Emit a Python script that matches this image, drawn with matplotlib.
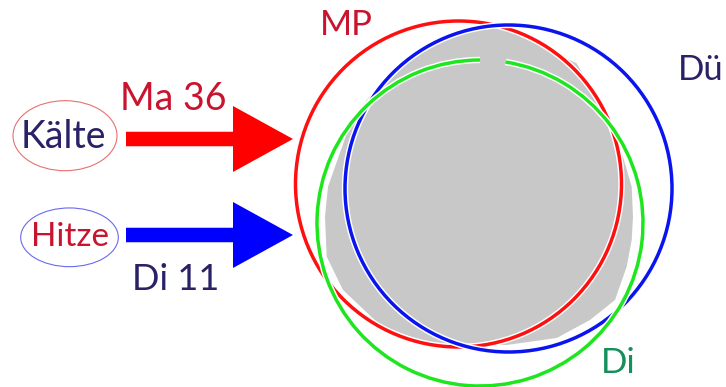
import matplotlib
matplotlib.use("Agg")
import matplotlib.pyplot as plt
from matplotlib.patches import Circle, Ellipse, Polygon, FancyArrow, Arc
import matplotlib.patheffects as pe

W, H = 726, 387

# circles: name, center x, center y, radius, color
circle_names = ["MP", "Dü", "Di"]
circle_cx = [458.5, 508.5, 480.0]
circle_cy = [184.0, 188.5, 223.0]
circle_r = [163.0, 163.5, 163.0]
circle_colors = ["#ff1010", "#0a14ee", "#1ee61e"]

# gray overlap region outline
gray_x = [496.7, 576.7, 603, 623, 631.7, 633, 631.7, 626.7, 615, 590, 556.7, 506.7, 463, 423, 380, 343,
          326.7, 325, 328, 348, 368, 400, 443, 476.7]
gray_y = [25, 63.3, 110, 157, 186.7, 217, 240, 266.7, 300, 320, 338, 345, 345, 341.7, 325, 290,
          256.7, 216.7, 186.7, 130, 98, 67, 37, 26.7]

# labels
label_texts = ["MP", "Dü", "Di", "Ma 36", "Di 11", "Kälte", "Hitze"]
label_x = [346, 678, 601, 173, 176, 63, 70]
label_y = [35, 80, 373, 110, 290, 148, 246]
label_sizes = [25, 25, 25, 27, 26, 27, 24]
label_colors = ["#c8142e", "#2a2266", "#14905a", "#c8142e", "#2a2266", "#2a2266", "#c8142e"]
label_ha = ["center", "left", "left", "center", "center", "center", "center"]

fig = plt.figure(figsize=(W / 100, H / 100), dpi=100)
ax = fig.add_axes([0, 0, 1, 1])
ax.set_xlim(0, W)
ax.set_ylim(H, 0)
ax.set_aspect("equal")
ax.axis("off")

ax.add_patch(Polygon(list(zip(gray_x, gray_y)), closed=True, facecolor="#c8c8c8", edgecolor="none", zorder=1))

halo = [pe.Stroke(linewidth=4.6, foreground="white"), pe.Normal()]
for i, (cx, cy, r, c) in enumerate(zip(circle_cx, circle_cy, circle_r, circle_colors)):
    if i == 2:
        # green circle with small gap at top
        a = Arc((cx, cy), 2 * r, 2 * r, angle=0, theta1=-81.0, theta2=270.0,
                edgecolor=c, linewidth=2.5, zorder=2 + i, path_effects=halo)
        ax.add_patch(a)
    else:
        ax.add_patch(Circle((cx, cy), r, facecolor="none", edgecolor=c, linewidth=2.5,
                            zorder=2 + i, path_effects=halo))

# arrows
arrow_y = [139, 235]
arrow_colors = ["#ff0000", "#0000ff"]
for y, c in zip(arrow_y, arrow_colors):
    ax.add_patch(FancyArrow(126, y, 167, 0, width=14.5, head_width=66, head_length=60,
                            length_includes_head=True, color=c, linewidth=0, zorder=5))

# ellipses around Kälte / Hitze
ax.add_patch(Ellipse((65, 135.7), 104, 70, facecolor="none", edgecolor="#e87070", linewidth=0.8, zorder=5))
ax.add_patch(Ellipse((69.5, 237.3), 97.6, 58.7, facecolor="none", edgecolor="#6a6af0", linewidth=0.8, zorder=5))

for t, x, y, s, c, ha in zip(label_texts, label_x, label_y, label_sizes, label_colors, label_ha):
    ax.text(x, y, t, color=c, ha=ha, va="baseline", fontsize=s, family="Lato", zorder=6)

fig.savefig("out.png", dpi=100, facecolor="white")
